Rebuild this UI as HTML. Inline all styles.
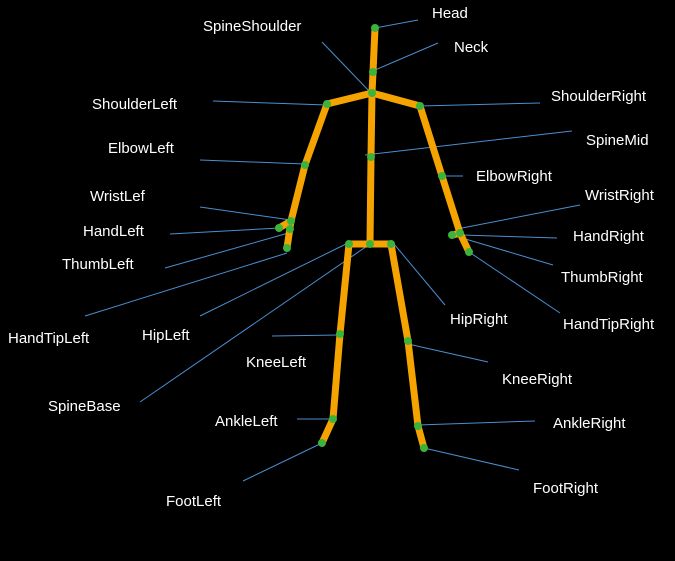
<!DOCTYPE html>
<html><head><style>
html,body{margin:0;padding:0;background:#000;}
svg{display:block}
text{font-family:"Liberation Sans",sans-serif;font-size:15px;fill:#fff;dominant-baseline:middle}
</style></head><body>
<svg width="675" height="561" viewBox="0 0 675 561">
<rect width="675" height="561" fill="#000"/>
<g stroke="#4a8fd0" stroke-width="1">
<line x1="375" y1="28" x2="418" y2="20"/>
<line x1="375" y1="70" x2="438" y2="43"/>
<line x1="322" y1="42" x2="370" y2="92"/>
<line x1="213" y1="101" x2="327" y2="105"/>
<line x1="420" y1="106" x2="540" y2="103"/>
<line x1="365" y1="155" x2="572" y2="131"/>
<line x1="442" y1="176" x2="463" y2="176"/>
<line x1="200" y1="160" x2="305" y2="164"/>
<line x1="200" y1="207" x2="291" y2="220"/>
<line x1="170" y1="234" x2="279" y2="228"/>
<line x1="165" y1="268" x2="292" y2="232"/>
<line x1="85" y1="316" x2="287" y2="253"/>
<line x1="200" y1="316" x2="346" y2="244"/>
<line x1="140" y1="402" x2="370" y2="244"/>
<line x1="445" y1="305" x2="394" y2="244"/>
<line x1="462" y1="228" x2="580" y2="205"/>
<line x1="462" y1="235" x2="557" y2="238"/>
<line x1="462" y1="238" x2="553" y2="265"/>
<line x1="469" y1="252" x2="560" y2="313"/>
<line x1="272" y1="336" x2="340" y2="335"/>
<line x1="408" y1="344" x2="488" y2="362"/>
<line x1="297" y1="419" x2="333" y2="419"/>
<line x1="418" y1="425" x2="535" y2="421"/>
<line x1="243" y1="481" x2="322" y2="443"/>
<line x1="424" y1="448" x2="519" y2="470"/>
</g>
<g stroke="#f5a300" stroke-width="7" stroke-linecap="round" stroke-linejoin="round" fill="none">
<polyline points="375,28 373,72 372,93 371,157 370,244"/>
<polyline points="327,104 372,93 420,106"/>
<polyline points="327,104 305,165 291,221 287,248"/>
<polyline points="291,221 279,228"/>
<polyline points="420,106 442,176 460,233 469,252"/>
<polyline points="460,233 453,235"/>
<polyline points="349,244 391,244"/>
<polyline points="349,244 340,334 333,419 322,443"/>
<polyline points="391,244 408,341 418,426 424,448"/>
</g>
<g fill="#3cb43c">
<circle cx="375" cy="28" r="4"/><circle cx="373" cy="72" r="4"/><circle cx="372" cy="93" r="4"/>
<circle cx="327" cy="104" r="4"/><circle cx="420" cy="106" r="4"/><circle cx="371" cy="157" r="4"/>
<circle cx="305" cy="165" r="4"/><circle cx="442" cy="176" r="4"/>
<circle cx="291" cy="221" r="4"/><circle cx="279" cy="228" r="4"/><circle cx="290" cy="229" r="4"/><circle cx="287" cy="248" r="4"/>
<circle cx="460" cy="233" r="4"/><circle cx="452" cy="235" r="4"/><circle cx="469" cy="252" r="4"/>
<circle cx="349" cy="244" r="4"/><circle cx="370" cy="244" r="4"/><circle cx="391" cy="244" r="4"/>
<circle cx="340" cy="334" r="4"/><circle cx="408" cy="341" r="4"/>
<circle cx="333" cy="419" r="4"/><circle cx="418" cy="426" r="4"/>
<circle cx="322" cy="443" r="4"/><circle cx="424" cy="448" r="4"/>
</g>
<text x="432" y="14">Head</text>
<text x="454" y="48">Neck</text>
<text x="203" y="27">SpineShoulder</text>
<text x="92" y="105">ShoulderLeft</text>
<text x="551" y="97">ShoulderRight</text>
<text x="108" y="149">ElbowLeft</text>
<text x="586" y="141">SpineMid</text>
<text x="476" y="177">ElbowRight</text>
<text x="90" y="197">WristLef</text>
<text x="585" y="196">WristRight</text>
<text x="83" y="232">HandLeft</text>
<text x="573" y="237">HandRight</text>
<text x="62" y="265">ThumbLeft</text>
<text x="561" y="278">ThumbRight</text>
<text x="8" y="339">HandTipLeft</text>
<text x="142" y="336">HipLeft</text>
<text x="450" y="320">HipRight</text>
<text x="563" y="325">HandTipRight</text>
<text x="246" y="363">KneeLeft</text>
<text x="502" y="380">KneeRight</text>
<text x="48" y="407">SpineBase</text>
<text x="215" y="422">AnkleLeft</text>
<text x="553" y="424">AnkleRight</text>
<text x="166" y="502">FootLeft</text>
<text x="533" y="489">FootRight</text>
</svg>
</body></html>
